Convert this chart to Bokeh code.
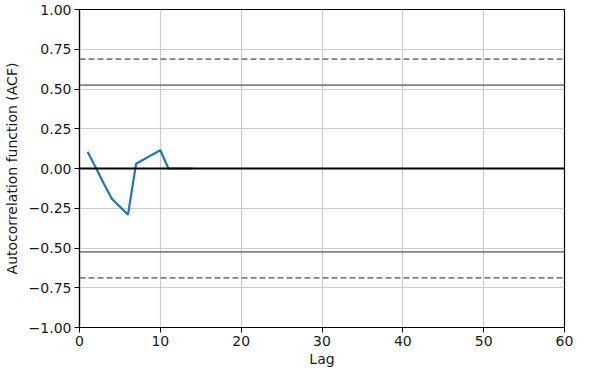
import numpy as np
from bokeh.plotting import figure
from bokeh.models import Span, FixedTicker, Range1d
from bokeh.embed import file_html
from bokeh.resources import INLINE

# Data
lags = [1, 2, 3, 4, 5, 6, 7, 8, 9, 10, 11, 12, 13, 14]
acf = [0.105, 0.007, -0.095, -0.19, -0.24, -0.29, 0.03, 0.058, 0.087, 0.115, 0.0, 0.0, 0.0, 0.0]
n_obs = 14
z95 = 1.959963984540054
z99 = 2.5758293035489004
x_ticks = [0, 10, 20, 30, 40, 50, 60]
y_ticks = [-1.0, -0.75, -0.5, -0.25, 0.0, 0.25, 0.5, 0.75, 1.0]

FONT = "DejaVu Sans"

p = figure(width=573, height=369, output_backend="svg", toolbar_location=None,
           x_range=Range1d(0, 60), y_range=Range1d(-1.0, 1.0),
           min_border_left=77, min_border_top=9, min_border_right=9, min_border_bottom=10)

p.outline_line_color = "black"
p.outline_line_width = 1.2
p.background_fill_color = "white"
p.border_fill_color = "white"

for ax in (p.xaxis, p.yaxis):
    ax.axis_line_color = "black"
    ax.axis_line_width = 1.2
    ax.major_tick_line_color = "black"
    ax.major_tick_out = 5
    ax.major_tick_in = 0
    ax.minor_tick_line_color = None
    ax.major_label_text_font = FONT
    ax.major_label_text_font_size = "14px"
    ax.major_label_text_color = "#1a1a1a"
    ax.major_label_standoff = 3
    ax.axis_label_text_font = FONT
    ax.axis_label_text_font_size = "14px"
    ax.axis_label_text_font_style = "normal"
    ax.axis_label_text_color = "#1a1a1a"

p.xaxis.ticker = FixedTicker(ticks=x_ticks)
p.yaxis.ticker = FixedTicker(ticks=y_ticks)
p.yaxis.major_label_overrides = {t: ("%.2f" % t).replace("-", "\u2212") for t in y_ticks}
p.xaxis.axis_label = "Lag"
p.yaxis.axis_label = "Autocorrelation function (ACF)"
p.xaxis.axis_label_standoff = 2
p.yaxis.axis_label_standoff = 6

p.xgrid.grid_line_color = "#cccccc"
p.ygrid.grid_line_color = "#cccccc"
p.xgrid.grid_line_width = 1.2
p.ygrid.grid_line_width = 1.2

conf95 = z95 / np.sqrt(n_obs)
conf99 = z99 / np.sqrt(n_obs)

p.add_layout(Span(location=conf99, dimension="width", line_color="grey", line_width=1.8, line_dash="6 3"))
p.add_layout(Span(location=conf95, dimension="width", line_color="grey", line_width=1.8))
p.add_layout(Span(location=0.0, dimension="width", line_color="black", line_width=2))
p.add_layout(Span(location=-conf95, dimension="width", line_color="grey", line_width=1.8))
p.add_layout(Span(location=-conf99, dimension="width", line_color="grey", line_width=1.8, line_dash="6 3"))

p.line(lags, acf, line_color="#1f77b4", line_width=2.2)

open("out.html", "w").write(file_html(p, INLINE))
